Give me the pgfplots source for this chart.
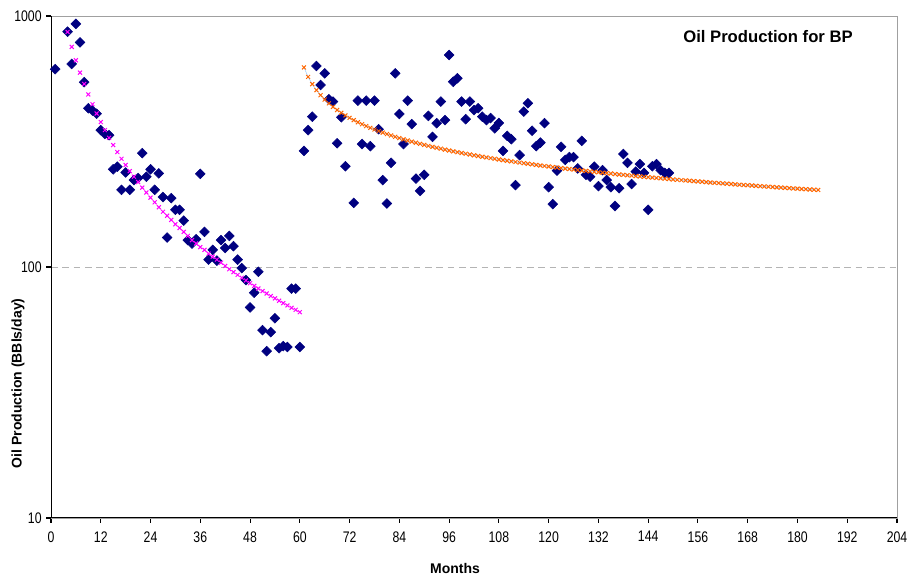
\documentclass[border=0pt]{standalone}
\usepackage{fontspec}
\setmainfont{Liberation Sans}
\newfontfamily\narrowfont[FakeStretch=0.8]{Liberation Sans}
\usepackage{pgfplots}
\pgfplotsset{compat=1.18}
\definecolor{navy}{HTML}{000080}
\definecolor{fitpink}{HTML}{FF00FF}
\definecolor{fitorange}{HTML}{FF6600}
\definecolor{fitline}{HTML}{99CCFF}
\definecolor{gridgray}{HTML}{B4B4B4}
\definecolor{bordergray}{HTML}{A0A0A0}

\begin{document}
\begin{tikzpicture}
\begin{axis}[
    at={(0,0)}, anchor=south west,
    scale only axis,
    width=634.5pt, height=376.5pt,
    xmin=0, xmax=204,
    ymode=log, ymin=10, ymax=1000,
    xtick={0,12,...,204},
    ytick={10,100,1000}, yticklabels={10,100,1000},
    minor y tick style={draw=none},
    tick pos=left, tick align=outside,
    major tick length=3.5pt,
    tick style={black, line width=0.8pt},
    ymajorgrids,
    major grid style={dash pattern=on 5pt off 3.5pt, color=gridgray, line width=0.6pt},
    axis line style={draw=bordergray, line width=0.7pt},
    ticklabel style={font=\narrowfont\fontsize{11.5}{12}\selectfont},
    xticklabel style={yshift=-3pt},
    /pgf/number format/assume math mode=true,
]
% production data
\addplot[only marks, mark=square*, mark size=2.6pt,
    mark options={rotate=45, fill=navy, draw=navy}] coordinates {
    (1,614) (4,866) (5,644) (6,930) (7,785) (8,545) (9,429) (10,420)
    (11,408) (12,351) (13,339) (14,335) (15,245) (16,251) (17,203) (18,238)
    (19,203) (20,222) (21,226) (22,284) (23,229) (24,245) (25,203) (26,236)
    (27,190) (28,131) (29,188) (30,169) (31,169) (32,153) (33,128) (34,124)
    (35,129) (36,235) (37,138) (38,107) (39,117) (40,106) (41,128) (42,119)
    (43,133) (44,121) (45,107) (46,99) (47,88.7) (48,69) (49,79) (50,95.7)
    (51,56) (52,46.2) (53,55) (54,62.5) (55,47.5) (56,48.4) (57,48) (58,82)
    (59,82) (60,48)
    (61,290) (62,351) (63,397) (64,632) (65,531) (66,591) (67,466) (68,456)
    (69,311) (70,395) (71,252) (73,180) (74,460) (75,309) (76,460) (77,303)
    (78,460) (79,354) (80,222) (81,179) (82,260) (83,591) (84,407) (85,309)
    (86,460) (87,371) (88,225) (89,201) (90,233) (91,400) (92,330) (93,374)
    (94,456) (95,385) (96,699) (97,547) (98,565) (99,456) (100,388) (101,456)
    (102,422) (103,429) (104,397) (105,385) (106,392) (107,357) (108,375) (109,290)
    (110,333) (111,323) (112,212) (113,279) (114,416) (115,449) (116,349) (117,303)
    (118,313) (119,374) (120,208) (121,178) (122,242) (123,301) (124,267) (125,274)
    (126,274) (127,247) (128,318) (129,233) (130,229) (131,251) (132,210) (133,243)
    (134,222) (135,208) (136,175) (137,206) (138,282) (139,260) (140,214) (141,240)
    (142,257) (143,237) (144,169) (145,252) (146,257) (147,243) (148,237) (149,237)
};
% first decline fit
\addplot[only marks, mark=x, mark size=2.1pt, color=fitpink, line width=0.75pt] coordinates {
    (4,864) (5,753) (6,666) (7,595) (8,536) (9,487) (10,445) (11,409)
    (12,378) (13,351) (14,327) (15,306) (16,287) (17,270) (18,255) (19,241)
    (20,229) (21,218) (22,207) (23,198) (24,189) (25,181) (26,173) (27,166)
    (28,160) (29,154) (30,148) (31,143) (32,138) (33,133) (34,128) (35,124)
    (36,120) (37,117) (38,113) (39,110) (40,107) (41,104) (42,101) (43,98.0)
    (44,95.4) (45,93.0) (46,90.6) (47,88.4) (48,86.2) (49,84.1) (50,82.1) (51,80.2)
    (52,78.4) (53,76.6) (54,75.0) (55,73.4) (56,71.8) (57,70.3) (58,68.8) (59,67.5)
    (60,66.1)
};
% second decline fit
\addplot[color=fitline, line width=0.4pt, mark=x, mark size=2.1pt,
    mark options={draw=fitorange, line width=0.75pt}] coordinates {
    (61,623.6) (62,571.9) (63,535.0) (64,506.5) (65,483.6) (66,464.6) (67,448.5) (68,434.5)
    (69,422.3) (70,411.5) (71,401.7) (72,392.9) (73,384.8) (74,377.4) (75,370.6) (76,364.3)
    (77,358.4) (78,353.0) (79,347.8) (80,343.0) (81,338.5) (82,334.2) (83,330.1) (84,326.3)
    (85,322.6) (86,319.1) (87,315.8) (88,312.6) (89,309.5) (90,306.6) (91,303.8) (92,301.1)
    (93,298.5) (94,296.0) (95,293.5) (96,291.2) (97,288.9) (98,286.7) (99,284.6) (100,282.6)
    (101,280.6) (102,278.6) (103,276.7) (104,274.9) (105,273.2) (106,271.5) (107,269.8) (108,268.1)
    (109,266.5) (110,265.0) (111,263.5) (112,262.0) (113,260.5) (114,259.1) (115,257.8) (116,256.4)
    (117,255.1) (118,253.8) (119,252.6) (120,251.4) (121,250.2) (122,249.0) (123,247.8) (124,246.7)
    (125,245.6) (126,244.5) (127,243.4) (128,242.4) (129,241.4) (130,240.4) (131,239.3) (132,238.4)
    (133,237.4) (134,236.5) (135,235.6) (136,234.6) (137,233.7) (138,232.9) (139,232.0) (140,231.2)
    (141,230.3) (142,229.5) (143,228.7) (144,227.9) (145,227.1) (146,226.3) (147,225.6) (148,224.8)
    (149,224.1) (150,223.3) (151,222.6) (152,221.9) (153,221.2) (154,220.5) (155,219.8) (156,219.1)
    (157,218.5) (158,217.8) (159,217.2) (160,216.5) (161,215.9) (162,215.3) (163,214.7) (164,214.0)
    (165,213.4) (166,212.8) (167,212.2) (168,211.7) (169,211.1) (170,210.5) (171,209.9) (172,209.4)
    (173,208.8) (174,208.3) (175,207.7) (176,207.2) (177,206.7) (178,206.2) (179,205.6) (180,205.1)
    (181,204.6) (182,204.1) (183,203.6) (184,203.2) (185,202.7)
};
% black axes on left and bottom
\draw[black, line width=1.5pt] (rel axis cs:0,1) -- (rel axis cs:0,0);
\draw[black, line width=1pt] (rel axis cs:0,0) -- (rel axis cs:1,0);
\end{axis}
\node[font=\bfseries\fontsize{12.5}{14}\selectfont] at (537.75pt,360.75pt) {Oil Production for BP};
\node[font=\bfseries\fontsize{10.5}{12}\selectfont] at (303pt,-37.5pt) {Months};
\node[font=\bfseries\fontsize{10.5}{12}\selectfont, rotate=90] at (-24.75pt,101pt) {Oil Production (BBls/day)};
\pgfresetboundingbox
\path[use as bounding box] (-38.25pt,-44.25pt) rectangle (645.75pt,388.5pt);
\end{tikzpicture}
\end{document}
